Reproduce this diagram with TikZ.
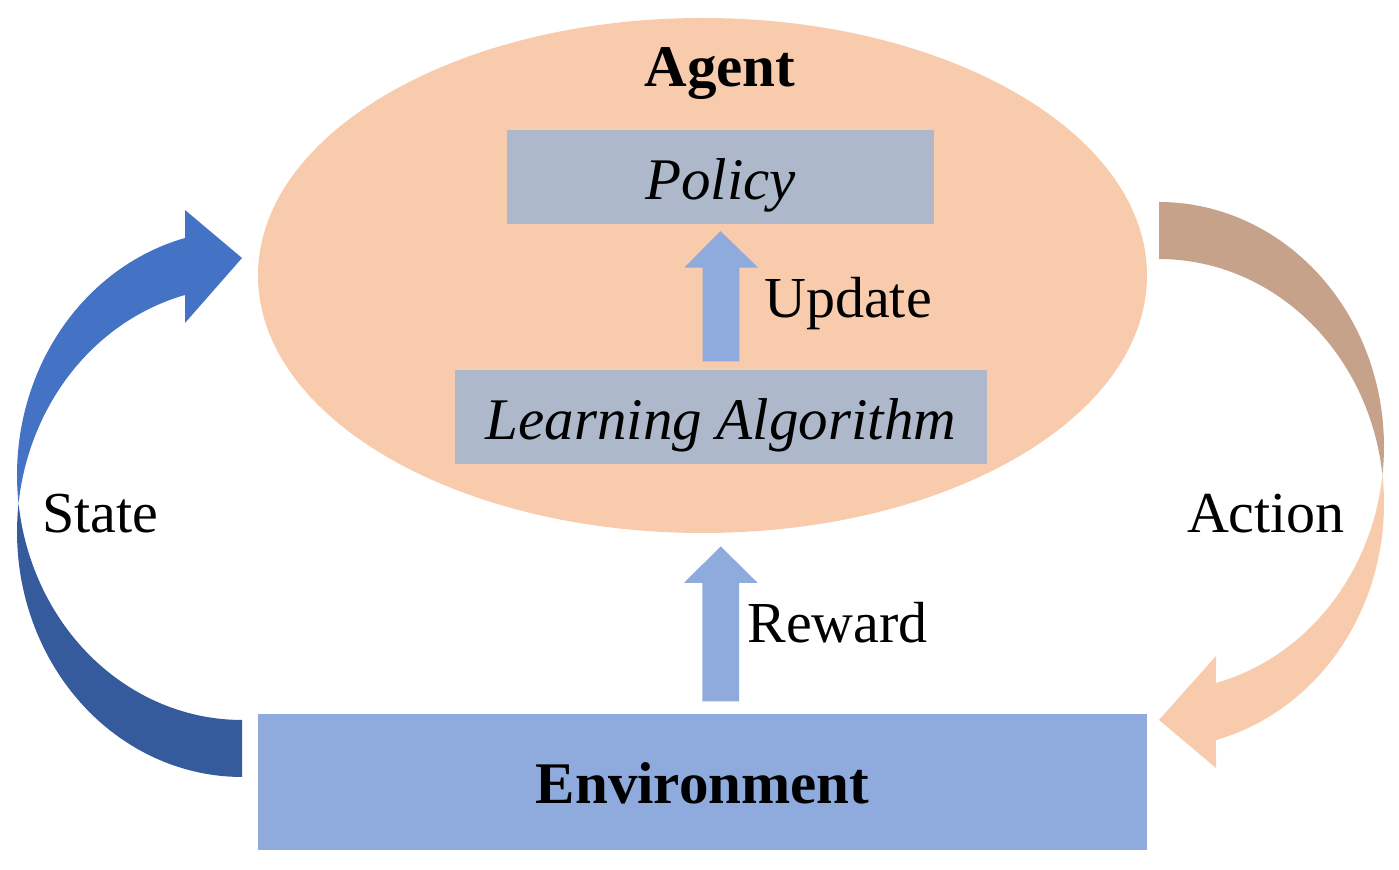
\documentclass[tikz,border=0pt]{standalone}
\usepackage{fontspec}
\setmainfont{Liberation Serif}
\usetikzlibrary{calc,shapes.geometric}
\definecolor{peach}{HTML}{F8CBAD}
\definecolor{peachdark}{HTML}{C6A28A}
\definecolor{boxgray}{HTML}{ADB9CA}
\definecolor{softblue}{HTML}{8FAADC}
\definecolor{stblue}{HTML}{4472C4}
\definecolor{stbluedark}{HTML}{365B9D}
\tikzset{
  lbl/.style={inner sep=0pt, anchor=base, font=\fontsize{29}{34}\selectfont},
  boldlbl/.style={inner sep=0pt, anchor=base, font=\fontsize{29.5}{34}\selectfont\bfseries},
  algbox/.style={fill=boxgray, draw=none, inner sep=0pt, text height=23pt, text depth=0pt,
                 font=\fontsize{29.5}{34}\selectfont\itshape},
  envbox/.style={fill=softblue, draw=none, inner sep=0pt, text height=22pt, text depth=0pt,
                 font=\fontsize{29.5}{34}\selectfont\bfseries},
  uparrow/.style={fill=softblue, draw=none}
}
\begin{document}
\begin{tikzpicture}[x=0.5pt,y=-0.5pt]
\useasboundingbox (0,0) rectangle (1399,870);
\fill[white] (0,0) rectangle (1399,870);

% Agent ellipse
\node[ellipse, fill=peach, draw=none, inner sep=0pt, minimum width=444.5pt, minimum height=257.5pt] (agent) at (702.5,275.5) {};
\node[boldlbl] (agentlbl) at (720,87) {Agent};

% Policy and learning boxes
\node[algbox, minimum width=213.5pt, minimum height=47pt] (policy) at (720.5,177) {Policy};
\node[algbox, minimum width=266pt, minimum height=47pt] (learn) at (721,417) {Learning Algorithm};

% Environment box
\node[envbox, minimum width=444.5pt, minimum height=68pt] (env) at (702.5,782) {Environment};

% Update arrow
\coordinate (u0) at ($(learn.north)+(0,-8.3)$);
\coordinate (u1) at ($(policy.south)+(0,6.7)$);
\fill[uparrow] ($(u0)+(-18.4,0)$) -- ($(u0)+(18.3,0)$) -- ($(u0)+(18.3,-93.7)$) -- ($(u0)+(37,-93.7)$)
  -- (u1) -- ($(u0)+(-36.7,-93.7)$) -- ($(u0)+(-18.4,-93.7)$) -- cycle;
\node[lbl] (update) at (848,318) {Update};

% Reward arrow
\coordinate (r0) at ($(env.north)+(18.2,-12.3)$);
\coordinate (r1) at ($(agent.south)+(18.2,13)$);
\fill[uparrow] ($(r0)+(-18.4,0)$) -- ($(r0)+(18.3,0)$) -- ($(r0)+(18.3,-118.4)$) -- ($(r0)+(37,-118.4)$)
  -- (r1) -- ($(r0)+(-36.7,-118.4)$) -- ($(r0)+(-18.4,-118.4)$) -- cycle;
\node[lbl] (reward) at (837.5,643) {Reward};

% State curved arrow (left)
\fill[stblue] plot[domain=173.32:255.33,samples=60,variable=\t] ({242+225*cos(\t)},{475+245*sin(\t)})
  -- (185,210) -- (242,258) -- (185,323)
  -- plot[domain=255.33:186.68,samples=60,variable=\t] ({242+225*cos(\t)},{532+245*sin(\t)}) -- cycle;
\fill[stbluedark] plot[domain=186.68:90,samples=60,variable=\t] ({242+225*cos(\t)},{532+245*sin(\t)})
  -- plot[domain=90:173.32,samples=60,variable=\t] ({242+225*cos(\t)},{475+245*sin(\t)}) -- cycle;
\node[lbl] (state) at (100.5,533) {State};

% Action curved arrow (right)
\fill[peachdark] plot[domain=-90:6.69,samples=60,variable=\t] ({1159+225*cos(\t)},{446.5+244.5*sin(\t)})
  -- plot[domain=-6.69:-90,samples=60,variable=\t] ({1159+225*cos(\t)},{503.5+244.5*sin(\t)}) -- cycle;
\fill[peach] plot[domain=-6.69:75.33,samples=60,variable=\t] ({1159+225*cos(\t)},{503.5+244.5*sin(\t)})
  -- (1216,768) -- (1159,720) -- (1216,656)
  -- plot[domain=75.33:6.69,samples=60,variable=\t] ({1159+225*cos(\t)},{446.5+244.5*sin(\t)}) -- cycle;
\node[lbl] (action) at (1266,533) {Action};
\end{tikzpicture}
\end{document}
